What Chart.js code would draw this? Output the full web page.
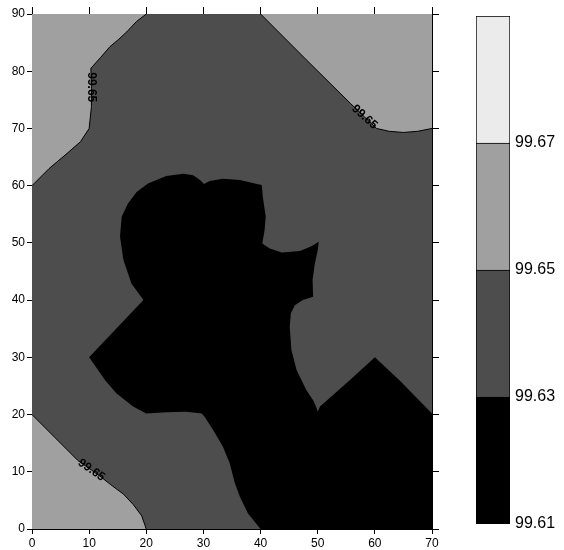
<!DOCTYPE html>
<html>
<head>
<meta charset="utf-8">
<script src="https://cdn.jsdelivr.net/npm/chart.js@4.4.1/dist/chart.umd.min.js"></script>
<style>
  body { margin: 0; background: #fff; }
  #wrap { position: relative; width: 564px; height: 550px; }
  #plot { position: absolute; left: 0; top: 0; }
  #scale { position: absolute; left: 440px; top: 0; }
</style>
</head>
<body>
<div id="wrap">
  <canvas id="plot" width="450" height="550"></canvas>
  <canvas id="scale" width="124" height="550"></canvas>
</div>
<script>
// contour levels (colour scale)
const levels = [99.61, 99.63, 99.65, 99.67, 99.69];
const levelTicks = [99.61, 99.63, 99.65, 99.67];

// region >= 99.65, top left
const topLeftX = [0, 0, 3, 6.1, 8.5, 10, 10.4, 10.4, 10.3, 12, 13.65, 15.2, 16.6, 18.3, 20];
const topLeftY = [90, 60, 63, 65.6, 67.7, 70, 73.8, 77, 80.5, 82.4, 84.3, 85.6, 86.9, 88.7, 90];

// region >= 99.65, top right
const topRightX = [40, 48, 55.7, 58.2, 60.3, 62.5, 65, 67.5, 70, 70];
const topRightY = [90, 82, 74.4, 72, 70, 69.5, 69.3, 69.5, 70, 90];

// region >= 99.65, bottom left
const botLeftX = [0, 0, 4, 8, 10.4, 12.2, 13.7, 16, 17.7, 19.2, 20];
const botLeftY = [0, 20, 16, 12, 10.3, 9, 7.8, 6.1, 4.3, 2.3, 0];

// region < 99.63
const lowX = [40, 70, 70, 64.3, 60, 55.6, 50.4, 50, 49.7, 49.2, 48, 46.3, 45.4, 45.1, 45.3, 46, 47.4, 49.2,
  49.1, 49.5, 50, 50.2, 48.9, 46.9, 43.7, 41.6, 40.3, 40.7, 40.9, 40.4, 40.2, 39, 36.4, 33.4, 31.1, 30.1,
  29.4, 28.2, 26.5, 23.5, 20.3, 18.3, 16.8, 15.7, 15.4, 16, 17.4, 19.5, 10, 12.8, 14.8, 17.7, 20, 23.5, 27,
  29.7, 30.2, 31.7, 33.4, 34.6, 35.5, 36.4, 37.8, 40];
const lowY = [0, 0, 20.2, 26, 30, 26, 21.4, 20.5, 21.4, 22.5, 24.3, 27.8, 31.3, 35.3, 37.7, 39.1, 40, 40.6,
  43.5, 46.4, 48.7, 50.2, 49.4, 48.6, 48.3, 49, 49.9, 52.2, 54.6, 58, 60.1, 60.4, 61, 61.2, 60.8, 60.3,
  61, 61.8, 62.1, 61.7, 60.4, 58.9, 56.9, 54.6, 51.1, 47, 42.9, 40, 30, 26, 23.7, 21.4, 20.2, 20.4, 20.5,
  20.2, 19.6, 17.3, 14.4, 11.5, 8, 5.6, 2.7, 0];

// contour labels
const labelText = "99.65";
const labelX = [10.3, 58.2, 10.4];
const labelY = [77.2, 72, 10.3];

const font = '"Liberation Sans", Arial, sans-serif';
const bandColors = ["#000000", "#4d4d4d", "#a0a0a0", "#ebebeb"];

const pts = (xs, ys) => xs.map((v, i) => ({ x: v, y: ys[i] }));

function region(xs, ys, color) {
  return {
    type: "line",
    data: pts(xs, ys),
    backgroundColor: color,
    borderWidth: 0,
    fill: "shape",
    pointRadius: 0,
    tension: 0,
    clip: 0
  };
}

// the 99.65 contour line: region edge without the part on the frame
function contour(xs, ys, from, to) {
  return {
    type: "line",
    data: pts(xs, ys).slice(from, to),
    borderColor: "#000",
    borderWidth: 1,
    fill: false,
    pointRadius: 0,
    tension: 0
  };
}

const background = {
  id: "background",
  beforeDatasetsDraw(chart) {
    const { ctx, chartArea: a } = chart;
    ctx.save();
    ctx.fillStyle = bandColors[1];
    ctx.fillRect(a.left, a.top, a.right - a.left, a.bottom - a.top);
    ctx.restore();
  }
};

const labelAngles = [90, 42, 35];
const contourLabels = {
  id: "contourLabels",
  afterDatasetsDraw(chart) {
    const { ctx, scales: { x, y } } = chart;
    ctx.save();
    ctx.font = "bold 12px " + font;
    ctx.fillStyle = "#000";
    ctx.textAlign = "center";
    ctx.textBaseline = "middle";
    labelX.forEach((v, i) => {
      ctx.save();
      ctx.translate(x.getPixelForValue(v), y.getPixelForValue(labelY[i]));
      ctx.rotate(labelAngles[i] * Math.PI / 180);
      ctx.fillText(labelText, 0, 0);
      ctx.restore();
    });
    ctx.restore();
  }
};

const axisBase = (min, max, pos, len, labels) => ({
  type: "linear",
  position: pos,
  min: min,
  max: max,
  z: 1,
  ticks: { stepSize: 10, display: labels, color: "#000", font: { family: font, size: 12 }, padding: 2 },
  grid: { drawOnChartArea: false, drawTicks: true, tickLength: len, color: "#000" },
  border: { display: true, color: "#000", width: 1 }
});

const xAxis = axisBase(0, 70, "bottom", 5, true);
xAxis.afterFit = s => { s.height = 21; };
const yAxis = axisBase(0, 90, "left", 5, true);
yAxis.afterFit = s => { s.width = 32; };
const xTop = axisBase(0, 70, "top", 7, false);
xTop.afterFit = s => { s.height = 14; };
const yRight = axisBase(0, 90, "right", 7, false);
yRight.afterFit = s => { s.width = 18; };

new Chart(document.getElementById("plot"), {
  data: {
    datasets: [
      contour(topLeftX, topLeftY, 1),
      contour(topRightX, topRightY, 0, -1),
      contour(botLeftX, botLeftY, 1),
      region(lowX, lowY, bandColors[0]),
      region(topLeftX, topLeftY, bandColors[2]),
      region(topRightX, topRightY, bandColors[2]),
      region(botLeftX, botLeftY, bandColors[2])
    ]
  },
  options: {
    responsive: false,
    animation: false,
    devicePixelRatio: 1,
    layout: { padding: 0 },
    plugins: { legend: { display: false }, tooltip: { enabled: false } },
    scales: { x: xAxis, y: yAxis, xTop: xTop, yRight: yRight }
  },
  plugins: [background, contourLabels]
});

// colour scale: one floating bar per band, one line between bands
new Chart(document.getElementById("scale"), {
  type: "bar",
  data: {
    labels: [""],
    datasets: bandColors.map((c, i) => ({
      data: [[levels[i], levels[i + 1]]],
      backgroundColor: c,
      borderColor: "#000",
      borderWidth: { left: 1, right: 1, top: 1, bottom: i === 0 ? 1 : 0 },
      borderSkipped: false,
      grouped: false,
      barPercentage: 1,
      categoryPercentage: 1
    }))
  },
  options: {
    responsive: false,
    animation: false,
    devicePixelRatio: 1,
    layout: { padding: { left: 36, top: 16, bottom: 26, right: 0 } },
    plugins: { legend: { display: false }, tooltip: { enabled: false } },
    scales: {
      x: { display: false },
      y: {
        position: "right",
        min: levels[0],
        max: levels[levels.length - 1],
        afterBuildTicks: s => { s.ticks = levelTicks.map(v => ({ value: v })); },
        afterFit: s => { s.width = 54; },
        grid: { display: false, drawTicks: false },
        border: { display: false },
        ticks: { color: "#000", font: { family: font, size: 16 }, padding: 5, callback: v => v.toFixed(2) }
      }
    }
  }
});
</script>
</body>
</html>
